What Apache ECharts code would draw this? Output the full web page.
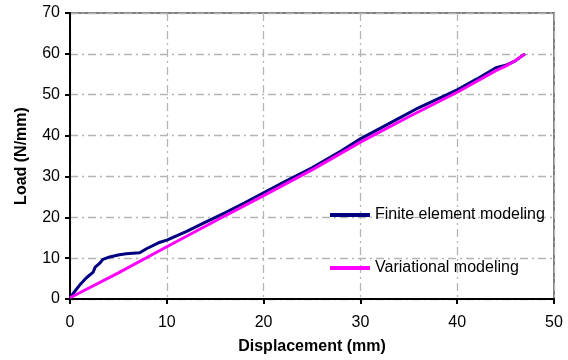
<!DOCTYPE html>
<html><head><meta charset="utf-8">
<script src="https://cdn.jsdelivr.net/npm/echarts@6/dist/echarts.min.js"></script>
<style>html,body{margin:0;padding:0;background:#fff}#c{width:568px;height:360px}</style>
</head><body><div id="c"></div>
<script>
const xTicks = [0, 10, 20, 30, 40, 50];
const yTicks = [0, 10, 20, 30, 40, 50, 60, 70];
const feX = [0, 0.5, 1.0, 1.7, 2.4, 2.6, 3.05, 3.4, 4.1, 5.1, 5.8, 7.2, 7.9, 9.3, 10, 12, 14, 16, 18, 20, 22, 25, 28, 30, 33, 36, 40, 42, 44, 45, 46, 47];
const feY = [0.3, 1.9, 3.4, 5.2, 6.6, 7.8, 8.7, 9.7, 10.3, 10.85, 11.1, 11.3, 12.3, 13.9, 14.4, 16.5, 18.8, 21.1, 23.5, 26.0, 28.5, 32.1, 36.2, 39.2, 43.0, 46.8, 51.2, 53.8, 56.6, 57.2, 58.3, 60.0];
const vmX = [0, 5, 10, 15, 20, 25, 30, 35, 40, 44, 45, 46, 47];
const vmY = [0.3, 6.4, 12.8, 19.1, 25.3, 31.6, 38.4, 44.6, 50.6, 55.9, 57.0, 58.3, 60.0];
const seriesNames = ['Finite element modeling', 'Variational modeling'];

const pair = (xs, ys) => xs.map((x, i) => [x, ys[i]]);
const font = 'Arial, "Liberation Sans", sans-serif';
const grid = {type: [8, 4, 2, 4], color: '#b4b4b4', width: 1.3};
const chart = echarts.init(document.getElementById('c'));
chart.setOption({
  animation: false,
  grid: {left: 70, right: 14, top: 13, bottom: 60, show: true, borderColor: '#808080', borderWidth: 2},
  legend: [
    {data: [seriesNames[0]], left: 325, top: 202, icon: 'rect', itemWidth: 40, itemHeight: 4, itemGap: 0,
     textStyle: {fontFamily: font, fontSize: 16, color: '#000'}},
    {data: [seriesNames[1]], left: 325, top: 255, icon: 'rect', itemWidth: 40, itemHeight: 4, itemGap: 0,
     textStyle: {fontFamily: font, fontSize: 16, color: '#000'}}
  ],
  xAxis: {
    type: 'value', min: 0, max: 50, interval: 10,
    name: 'Displacement (mm)', nameLocation: 'middle', nameGap: 40,
    nameTextStyle: {fontFamily: font, fontSize: 16, fontWeight: 'bold', color: '#000'},
    axisLine: {show: true, lineStyle: {color: '#000', width: 2}},
    axisTick: {show: true, length: 5, lineStyle: {color: '#000', width: 2}},
    axisLabel: {fontFamily: font, fontSize: 16, color: '#000', margin: 16},
    splitLine: {show: true, lineStyle: grid}
  },
  yAxis: {
    type: 'value', min: 0, max: 70, interval: 10,
    name: 'Load (N/mm)', nameLocation: 'middle', nameGap: 40,
    nameTextStyle: {fontFamily: font, fontSize: 16, fontWeight: 'bold', color: '#000'},
    axisLine: {show: true, lineStyle: {color: '#000', width: 2}},
    axisTick: {show: true, length: 5, lineStyle: {color: '#000', width: 2}},
    axisLabel: {fontFamily: font, fontSize: 16, color: '#000', margin: 10},
    splitLine: {show: true, lineStyle: grid}
  },
  series: [
    {name: seriesNames[0], type: 'line', data: pair(feX, feY), showSymbol: false, symbol: 'none',
     lineStyle: {color: '#000080', width: 3}, itemStyle: {color: '#000080'}},
    {name: seriesNames[1], type: 'line', data: pair(vmX, vmY), showSymbol: false, symbol: 'none',
     lineStyle: {color: '#ff00ff', width: 3}, itemStyle: {color: '#ff00ff'}}
  ]
});
</script></body></html>
